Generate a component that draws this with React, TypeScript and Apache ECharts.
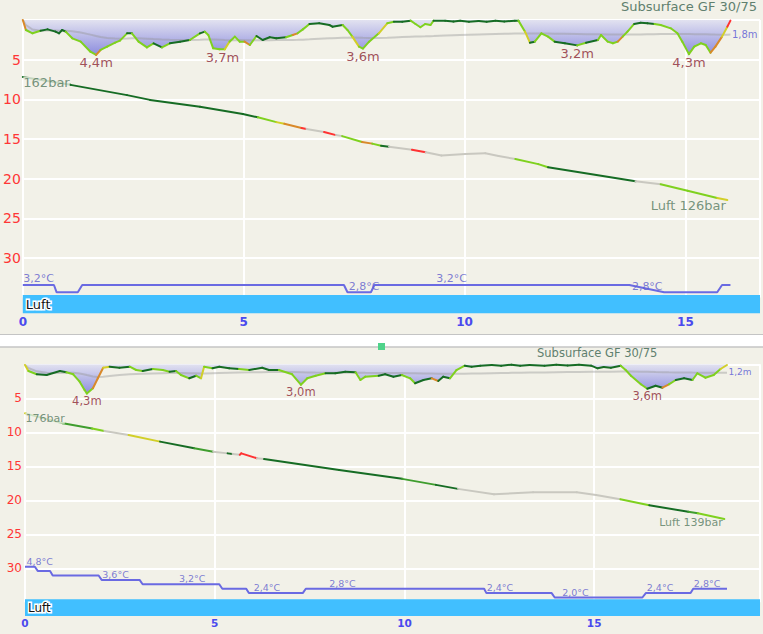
import React, { useEffect, useRef } from "react";
import * as echarts from "echarts";

const FONT = '"DejaVu Sans", sans-serif';
const BG = "#f2f1e8";

// Segment colour classes (velocity for depth, SAC for pressure)
const SEG_COLORS: Record<string, string> = {
  D: "#166c24",
  M: "#3f9d2e",
  L: "#7fd11f",
  Y: "#d2cf28",
  O: "#d9892a",
  R: "#ff3232",
  G: "#c9c8c0",
};

// ---------------- Dive 1 (upper profile) ----------------
const dive1XTicks = [0, 5, 10, 15];
const dive1DepthTicks = [5, 10, 15, 20, 25, 30];
// [minutes, depth m, colour class of the segment ending here]
const dive1Depth: [number, number, string][] = [
  [0, 0, "-"], [0.07, 1.26, "O"], [0.22, 1.68, "L"], [0.4, 1.35, "L"], [0.56, 1.18, "D"],
  [0.74, 1.47, "D"], [0.82, 1.68, "D"], [0.89, 1.26, "D"], [0.97, 1.47, "D"], [1.12, 2.31, "L"],
  [1.31, 2.73, "L"], [1.53, 4.0, "L"], [1.66, 4.4, "L"], [1.76, 3.78, "O"], [1.91, 3.36, "L"],
  [2.09, 2.86, "L"], [2.2, 2.6, "L"], [2.36, 1.68, "L"], [2.47, 1.68, "D"], [2.62, 2.73, "L"],
  [2.81, 3.45, "L"], [2.96, 2.94, "L"], [3.15, 3.45, "D"], [3.33, 2.94, "L"], [3.56, 2.73, "D"],
  [3.78, 2.52, "D"], [4.01, 1.68, "L"], [4.12, 1.47, "D"], [4.2, 1.89, "L"], [4.31, 3.57, "L"],
  [4.45, 3.7, "L"], [4.57, 3.7, "L"], [4.68, 2.73, "Y"], [4.8, 2.1, "L"], [4.91, 2.73, "L"],
  [5.02, 2.73, "L"], [5.14, 3.15, "O"], [5.29, 2.02, "L"], [5.43, 2.52, "D"], [5.59, 2.18, "D"],
  [5.74, 2.31, "D"], [5.96, 2.18, "D"], [6.11, 1.89, "L"], [6.22, 1.68, "O"], [6.34, 1.18, "L"],
  [6.49, 0.5, "L"], [6.71, 0.42, "D"], [6.94, 0.63, "D"], [7.01, 0.84, "D"], [7.24, 0.63, "D"],
  [7.35, 1.26, "L"], [7.46, 2.1, "L"], [7.61, 3.36, "Y"], [7.7, 3.6, "L"], [7.84, 2.73, "L"],
  [8.06, 1.68, "L"], [8.25, 0.42, "Y"], [8.4, 0.21, "L"], [8.59, 0.21, "D"], [8.78, 0.08, "D"],
  [8.89, 0.5, "L"], [9.0, 0.92, "L"], [9.11, 0.5, "L"], [9.23, 0.63, "L"], [9.3, 0.08, "L"],
  [9.56, 0.08, "D"], [9.75, 0.2, "D"], [9.9, 0.1, "D"], [10.1, 0.22, "D"], [10.32, 0.12, "D"],
  [10.5, 0.22, "D"], [10.7, 0.1, "D"], [10.9, 0.18, "D"], [11.14, 0.08, "D"], [11.22, 0.08, "D"],
  [11.37, 1.47, "L"], [11.48, 2.86, "Y"], [11.59, 2.73, "D"], [11.74, 1.68, "L"], [11.89, 2.1, "L"],
  [12.04, 2.73, "L"], [12.27, 2.94, "D"], [12.55, 3.2, "D"], [12.75, 2.86, "L"], [13.02, 2.52, "D"],
  [13.09, 1.89, "L"], [13.24, 2.73, "L"], [13.36, 2.94, "L"], [13.47, 2.73, "L"], [13.58, 2.1, "O"],
  [13.69, 1.47, "L"], [13.84, 0.5, "L"], [13.99, 0.34, "D"], [14.14, 0.42, "D"], [14.3, 0.5, "D"],
  [14.44, 0.63, "L"], [14.67, 1.05, "L"], [14.82, 1.68, "L"], [14.93, 2.73, "L"], [15.08, 4.3, "L"],
  [15.2, 3.36, "L"], [15.35, 2.94, "L"], [15.46, 3.15, "L"], [15.57, 4.12, "L"], [15.68, 3.36, "O"],
  [15.83, 2.1, "O"], [15.95, 0.84, "Y"], [16.02, 0.08, "R"],
];
// [minutes, bar, SAC colour class of the segment ending here]
const dive1Pressure: [number, number, string][] = [
  [0, 162, "-"], [1.08, 159.7, "D"], [2.36, 156.7, "D"], [2.88, 155.3, "D"], [4.01, 153.3, "D"],
  [4.98, 151.2, "D"], [5.32, 150.2, "D"], [5.74, 148.8, "L"], [5.92, 148.3, "Y"], [6.31, 147.1, "O"],
  [6.42, 146.8, "R"], [6.82, 145.9, "G"], [7.09, 145.0, "R"], [7.23, 144.7, "G"], [7.68, 143.0, "L"],
  [7.91, 142.5, "O"], [8.11, 141.9, "L"], [8.29, 141.6, "D"], [8.81, 140.7, "G"], [9.12, 140.0, "R"],
  [9.48, 139.0, "G"], [10.02, 139.5, "G"], [10.47, 139.7, "G"], [10.77, 138.9, "G"], [11.15, 138.0, "G"],
  [11.67, 136.5, "L"], [11.89, 135.6, "L"], [13.87, 131.5, "D"], [14.44, 130.6, "G"], [15.05, 128.7, "L"],
  [15.72, 126.6, "L"], [15.95, 126.0, "Y"],
];
const dive1Temp: [number, number][] = [
  [0, 3.2], [0.705, 3.2], [0.766, 2.8], [1.245, 2.8], [1.345, 3.2], [7.27, 3.2], [7.35, 2.8],
  [7.88, 2.8], [7.96, 3.2], [13.73, 3.2], [14.52, 2.8], [15.72, 2.8], [15.83, 3.2], [16.02, 3.2],
];
const dive1TempLabels: [number, number][] = [[0.02, 3.2], [7.39, 2.8], [9.37, 3.2], [13.8, 2.8]];
const dive1MaxDepthLabels: [number, number][] = [[1.66, 4.4], [4.52, 3.7], [7.7, 3.6], [12.55, 3.2], [15.08, 4.3]];
const dive1MeanDepth = 1.8;
const dive1Gas: [number, string][] = [[0, "Luft"]];

// ---------------- Dive 2 (lower profile) ----------------
const dive2XTicks = [0, 5, 10, 15];
const dive2DepthTicks = [5, 10, 15, 20, 25, 30];
const dive2Depth: [number, number, string][] = [
  [0, 0.1, "-"], [0.09, 0.99, "Y"], [0.31, 1.47, "L"], [0.57, 1.57, "D"], [0.92, 0.99, "D"],
  [1.09, 1.18, "D"], [1.27, 1.47, "L"], [1.44, 2.55, "L"], [1.57, 3.78, "L"], [1.63, 4.3, "L"],
  [1.79, 3.53, "L"], [1.92, 2.06, "O"], [2.06, 0.5, "O"], [2.23, 0.35, "Y"], [2.49, 0.5, "D"],
  [2.76, 0.35, "D"], [2.93, 0.84, "L"], [3.1, 0.99, "L"], [3.37, 0.69, "D"], [3.63, 0.84, "L"],
  [3.81, 1.09, "L"], [3.98, 0.99, "D"], [4.11, 1.57, "L"], [4.33, 2.06, "L"], [4.51, 1.68, "D"],
  [4.64, 2.06, "L"], [4.72, 0.35, "Y"], [4.94, 0.59, "L"], [5.12, 0.35, "D"], [5.38, 0.59, "D"],
  [5.64, 0.69, "D"], [5.91, 0.84, "L"], [6.25, 0.5, "D"], [6.43, 0.84, "D"], [6.69, 0.84, "D"],
  [7.04, 1.47, "L"], [7.27, 3.0, "L"], [7.44, 2.06, "L"], [7.66, 1.68, "L"], [7.92, 1.32, "L"],
  [8.18, 1.32, "D"], [8.44, 1.09, "D"], [8.71, 1.18, "D"], [8.84, 2.31, "L"], [8.97, 1.82, "L"],
  [9.32, 1.68, "L"], [9.49, 1.47, "D"], [9.71, 1.82, "D"], [9.93, 1.57, "D"], [10.15, 2.06, "L"],
  [10.28, 2.79, "L"], [10.5, 2.31, "D"], [10.72, 2.06, "D"], [10.89, 2.45, "O"], [11.02, 1.82, "D"],
  [11.2, 2.06, "D"], [11.37, 0.84, "L"], [11.59, 0.2, "L"], [11.77, 0.35, "D"], [12.0, 0.2, "D"],
  [12.3, 0.1, "D"], [12.55, 0.22, "D"], [12.82, 0.05, "D"], [13.05, 0.2, "D"], [13.3, 0.1, "D"],
  [13.69, 0.2, "D"], [14.0, 0.08, "D"], [14.3, 0.16, "D"], [14.6, 0.05, "D"], [14.92, 0.2, "D"],
  [15.09, 0.59, "D"], [15.25, 0.4, "D"], [15.44, 0.5, "D"], [15.7, 0.2, "D"], [15.83, 0.84, "L"],
  [15.97, 1.68, "L"], [16.23, 2.94, "L"], [16.4, 3.6, "L"], [16.62, 3.15, "D"], [16.8, 3.44, "D"],
  [16.97, 2.94, "O"], [17.15, 2.31, "L"], [17.37, 2.06, "D"], [17.59, 2.31, "D"], [17.72, 1.32, "L"],
  [17.93, 1.97, "L"], [18.15, 1.57, "L"], [18.33, 0.69, "L"], [18.5, 0.1, "Y"],
];
const dive2Pressure: [number, number, string][] = [
  [0, 176, "-"], [0.05, 175.8, "Y"], [1.0, 172.5, "M"], [1.77, 170.7, "M"], [2.09, 169.8, "L"],
  [2.73, 168.4, "G"], [3.56, 166.1, "Y"], [4.46, 163.8, "D"], [4.96, 162.6, "M"], [5.34, 162.0, "G"],
  [5.47, 161.8, "D"], [5.66, 161.5, "G"], [5.7, 162.0, "R"], [6.11, 160.3, "R"], [6.3, 160.0, "G"],
  [8.28, 156.2, "D"], [9.94, 153.1, "D"], [10.83, 151.0, "M"], [11.41, 149.6, "D"], [12.36, 147.7, "G"],
  [13.39, 148.4, "G"], [14.54, 148.4, "G"], [15.05, 147.5, "G"], [15.69, 146.0, "G"], [16.45, 143.9, "L"],
  [17.48, 141.6, "D"], [17.73, 141.1, "M"], [18.43, 139.1, "L"],
];
const dive2Temp: [number, number][] = [
  [0, 4.8], [0.26, 4.8], [0.34, 4.4], [0.66, 4.4], [0.73, 4.0], [1.94, 4.0], [2.02, 3.6], [3.02, 3.6],
  [3.1, 3.2], [5.12, 3.2], [5.2, 2.8], [5.83, 2.8], [5.9, 2.4], [7.32, 2.4], [7.4, 2.8], [12.1, 2.8],
  [12.16, 2.4], [13.88, 2.4], [13.96, 2.0], [16.27, 2.0], [16.36, 2.4], [17.54, 2.4], [17.61, 2.8], [18.5, 2.8],
];
const dive2TempLabels: [number, number][] = [
  [0.05, 4.8], [2.05, 3.6], [4.07, 3.2], [6.04, 2.4], [8.03, 2.8], [12.18, 2.4], [14.17, 2.0], [16.4, 2.4], [17.64, 2.8],
];
const dive2MaxDepthLabels: [number, number][] = [[1.63, 4.3], [7.27, 3.0], [16.4, 3.6]];
const dive2MeanDepth = 1.2;
const dive2Gas: [number, string][] = [[0, "Luft"]];

const TITLE = "Subsurface GF 30/75";

// ---------------- helpers ----------------
const fmt = (v: number) => v.toFixed(1).replace(".", ",");

function runningMean(pts: [number, number, string][]) {
  const out: [number, number][] = [[pts[0][0], pts[0][1]]];
  let area = 0;
  for (let i = 1; i < pts.length; i++) {
    const dt = pts[i][0] - pts[i - 1][0];
    area += (dt * (pts[i][1] + pts[i - 1][1])) / 2;
    out.push([pts[i][0], area / (pts[i][0] - pts[0][0])]);
  }
  return out;
}

function coloredPath(pts: [number, number, string][], xAxisIndex: number, yAxisIndex: number, z: number) {
  return {
    type: "custom",
    xAxisIndex,
    yAxisIndex,
    z,
    silent: true,
    clip: false,
    data: pts.map((p) => [p[0], p[1]]),
    renderItem: (params: any, api: any) => {
      const i = params.dataIndex;
      if (i === 0) return { type: "group", children: [] };
      const a = api.coord([pts[i - 1][0], pts[i - 1][1]]);
      const b = api.coord([api.value(0), api.value(1)]);
      return {
        type: "line",
        shape: { x1: a[0], y1: a[1], x2: b[0], y2: b[1] },
        style: { stroke: SEG_COLORS[pts[i][2]] || SEG_COLORS.L, lineWidth: 2, lineCap: "round" },
      };
    },
  };
}

function gasSeries(gas: [number, string][], xAxisIndex: number, yAxisIndex: number, offTop: number, h: number, fs: number) {
  return {
    type: "custom",
    xAxisIndex,
    yAxisIndex,
    z: 6,
    silent: true,
    clip: false,
    data: gas.map((g) => [g[0], 0]),
    renderItem: (params: any, api: any) => {
      const cs = params.coordSys;
      const i = params.dataIndex;
      const x0 = api.coord([api.value(0), 0])[0];
      const next = gas[i + 1];
      const x1 = next ? api.coord([next[0], 0])[0] : cs.x + cs.width;
      const y0 = cs.y + cs.height + offTop;
      return {
        type: "group",
        children: [
          { type: "rect", shape: { x: x0, y: y0, width: x1 - x0, height: h }, style: { fill: "#41bfff" } },
          {
            type: "text",
            style: {
              text: gas[i][1], x: x0 + 3, y: y0 + h / 2, align: "left", verticalAlign: "middle",
              fill: "#111", stroke: "#ffffff", lineWidth: 3, fontSize: fs, fontFamily: FONT,
            },
          },
        ],
      };
    },
  };
}

function labelSeries(data: any[], xAxisIndex: number, yAxisIndex: number, label: any, z = 10) {
  return {
    type: "scatter",
    xAxisIndex,
    yAxisIndex,
    z,
    silent: true,
    symbolSize: 1,
    itemStyle: { color: "transparent" },
    data,
    label: { show: true, fontFamily: FONT, ...label },
  };
}

type DiveCfg = {
  depth: [number, number, string][];
  pressure: [number, number, string][];
  temp: [number, number][];
  tempLabels: [number, number][];
  maxLabels: [number, number][];
  mean: number;
  gas: [number, string][];
  idx: number;
  fs: { max: number; temp: number; bar: number; mean: number; gas: number };
  gasOff: number;
  gasH: number;
};

function diveSeries(c: DiveCfg) {
  const x = c.idx;
  const yD = c.idx * 3;
  const yP = yD + 1;
  const yT = yD + 2;
  const last = c.depth[c.depth.length - 1];
  const p0 = c.pressure[0];
  const pN = c.pressure[c.pressure.length - 1];
  return [
    {
      type: "line",
      xAxisIndex: x,
      yAxisIndex: yD,
      z: 1,
      silent: true,
      showSymbol: false,
      data: c.depth.map((p) => [p[0], p[1]]),
      lineStyle: { width: 0, opacity: 0 },
      areaStyle: {
        opacity: 1,
        color: new echarts.graphic.LinearGradient(0, 0, 0, 1, [
          { offset: 0, color: "rgba(226,226,240,1)" },
          { offset: 1, color: "rgba(140,140,222,1)" },
        ]),
      },
    },
    {
      type: "line",
      xAxisIndex: x,
      yAxisIndex: yD,
      z: 2,
      silent: true,
      showSymbol: false,
      data: runningMean(c.depth),
      lineStyle: { color: "rgba(150,150,150,0.42)", width: 2 },
    },
    coloredPath(c.depth, x, yD, 3),
    coloredPath(c.pressure, x, yP, 3),
    {
      type: "line",
      xAxisIndex: x,
      yAxisIndex: yT,
      z: 3,
      silent: true,
      showSymbol: false,
      data: c.temp,
      lineStyle: { color: "#6a6ae2", width: 2 },
    },
    labelSeries(c.maxLabels, x, yD, {
      position: "bottom", distance: 1, color: "#8a2533", fontSize: c.fs.max,
      formatter: (p: any) => fmt(p.value[1]) + "m",
    }),
    labelSeries([[last[0], c.mean]], x, yD, {
      position: "right", distance: 1, color: "#5656d4", fontSize: c.fs.mean,
      formatter: (p: any) => fmt(p.value[1]) + "m",
    }),
    labelSeries(c.tempLabels, x, yT, {
      position: [0, 0], align: "left", verticalAlign: "bottom", color: "#5d5dcc", fontSize: c.fs.temp,
      formatter: (p: any) => fmt(p.value[1]) + "°C",
    }),
    labelSeries([[p0[0], p0[1]]], x, yP, {
      position: [1, 0], align: "left", verticalAlign: "top", color: "#557a60", fontSize: c.fs.bar,
      backgroundColor: BG, formatter: (p: any) => Math.round(p.value[1]) + "bar",
    }),
    labelSeries([[pN[0], pN[1]]], x, yP, {
      position: [-1, -1], align: "right", verticalAlign: "top", color: "#557a60", fontSize: c.fs.bar,
      formatter: (p: any) => c.gas[c.gas.length - 1][1] + " " + Math.round(p.value[1]) + "bar",
    }),
    gasSeries(c.gas, x, yD, c.gasOff, c.gasH, c.fs.gas),
  ];
}

export default function App() {
  const ref = useRef<HTMLDivElement>(null);
  useEffect(() => {
    if (!ref.current) return;
    const chart = echarts.init(ref.current, undefined, { renderer: "svg" });

    const split = { show: true, lineStyle: { color: "#ffffff", width: 2 } };
    const xAxisFor = (grid: number, max: number, ticks: number[], fs: number, margin: number) => ({
      type: "value",
      gridIndex: grid,
      min: 0,
      max,
      interval: 5,
      axisLine: { show: false },
      axisTick: { show: false },
      splitLine: split,
      axisLabel: {
        color: "#4a4aee", fontWeight: "bold", fontSize: fs, fontFamily: FONT, margin,
        formatter: (v: number) => (ticks.includes(v) ? String(v) : ""),
      },
    });
    const depthAxis = (grid: number, ticks: number[], fs: number, margin: number) => ({
      type: "value",
      gridIndex: grid,
      inverse: true,
      min: 0,
      max: 35,
      interval: 5,
      axisLine: { show: false },
      axisTick: { show: false },
      splitLine: split,
      axisLabel: {
        color: "#ff3636", fontSize: fs, fontFamily: FONT, margin,
        formatter: (v: number) => (ticks.includes(v) ? String(v) : ""),
      },
    });
    const hidden = (grid: number, min: number, max: number) => ({
      type: "value", gridIndex: grid, min, max, show: false, splitLine: { show: false },
    });

    chart.setOption({
      animation: false,
      backgroundColor: BG,
      textStyle: { fontFamily: FONT },
      grid: [
        { left: 22, top: 20, width: 741, height: 277.55 },
        { left: 25, top: 364.3, width: 738, height: 238 },
      ],
      xAxis: [
        xAxisFor(0, 741 / 44.4, dive1XTicks, 12, 18),
        xAxisFor(1, 738 / 38.1, dive2XTicks, 10.5, 15),
      ],
      yAxis: [
        depthAxis(0, dive1DepthTicks, 14, 2),
        hidden(0, 97.46, 178.68),
        hidden(0, 2.512, 17.72),
        depthAxis(1, dive2DepthTicks, 12, 3),
        hidden(1, 110.0, 193.1),
        hidden(1, 1.564, 23.2),
      ],
      series: [
        ...diveSeries({
          depth: dive1Depth, pressure: dive1Pressure, temp: dive1Temp, tempLabels: dive1TempLabels,
          maxLabels: dive1MaxDepthLabels, mean: dive1MeanDepth, gas: dive1Gas, idx: 0,
          fs: { max: 13, temp: 11, bar: 13, mean: 10, gas: 13 }, gasOff: -2.55, gasH: 18.3,
        }),
        ...diveSeries({
          depth: dive2Depth, pressure: dive2Pressure, temp: dive2Temp, tempLabels: dive2TempLabels,
          maxLabels: dive2MaxDepthLabels, mean: dive2MeanDepth, gas: dive2Gas, idx: 1,
          fs: { max: 11.5, temp: 9.5, bar: 11, mean: 9, gas: 12 }, gasOff: -3, gasH: 16.7,
        }),
      ],
      graphic: [
        { type: "rect", shape: { x: 0, y: 334.5, width: 763, height: 12.5 }, style: { fill: "#ffffff" }, z: 50 },
        { type: "line", shape: { x1: 0, y1: 334.5, x2: 763, y2: 334.5 }, style: { stroke: "#c4c4c4", lineWidth: 1 }, z: 51 },
        { type: "line", shape: { x1: 0, y1: 347, x2: 763, y2: 347 }, style: { stroke: "#c4c4c4", lineWidth: 1.5 }, z: 51 },
        { type: "rect", shape: { x: 378, y: 343, width: 7, height: 7 }, style: { fill: "#4fd38a" }, z: 52 },
        { type: "text", right: 6, top: 0, style: { text: TITLE, fill: "#5f806e", fontSize: 13, fontFamily: FONT }, z: 52 },
        { type: "text", left: 537, top: 347, style: { text: TITLE, fill: "#5f806e", fontSize: 11.5, fontFamily: FONT }, z: 52 },
      ],
    });
    return () => chart.dispose();
  }, []);
  return <div ref={ref} style={{ position: "fixed", left: 0, top: 0, width: 763, height: 634 }} />;
}
